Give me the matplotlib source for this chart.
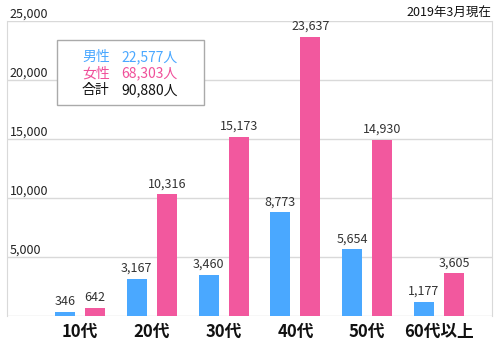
import matplotlib
matplotlib.use("Agg")
import matplotlib.pyplot as plt
from matplotlib.patches import Rectangle

plt.rcParams['font.family'] = ['Noto Sans CJK JP', 'DejaVu Sans']

ages = ["10代", "20代", "30代", "40代", "50代", "60代以上"]
male = [346, 3167, 3460, 8773, 5654, 1177]
female = [642, 10316, 15173, 23637, 14930, 3605]
yticks = [5000, 10000, 15000, 20000, 25000]
legend_rows = [("男性", "22,577人"), ("女性", "68,303人"), ("合計", "90,880人")]

BLUE = "#4aa8ff"; PINK = "#f2589e"; GRID = "#d9d9d9"
W, H = 500, 360
fig = plt.figure(figsize=(5, 3.6), dpi=100)
ax = fig.add_axes([7/W, 1-316/H, (492-7)/W, (316-21)/H])
ax.set_xlim(-1.017, 5.738); ax.set_ylim(0, 25000)
for s in ["top", "bottom"]: ax.spines[s].set_visible(False)
for s in ["left", "right"]: ax.spines[s].set_color(GRID)
ax.set_xticks([]); ax.set_yticks([])
for y in [0] + yticks:
    ax.axhline(y, color=GRID, lw=1, zorder=0)
# y labels sit just above each gridline at the far left
for y in yticks:
    ax.text(3/W, y, f"{y:,}", transform=ax.get_yaxis_transform(), fontsize=9,
            ha="left", va="bottom", color="#222")
bw = 20/71.8; off = 15/71.8
x = range(len(ages))
ax.bar([i-off for i in x], male, width=bw, color=BLUE, zorder=2)
ax.bar([i+off for i in x], female, width=bw, color=PINK, zorder=2)
for i in x:
    ax.text(i-off, male[i]+350, f"{male[i]:,}", ha="center", va="bottom", fontsize=9, color="#333")
    ax.text(i+off, female[i]+350, f"{female[i]:,}", ha="center", va="bottom", fontsize=9, color="#333")
    ax.text(i, -1350, ages[i], ha="center", va="center", fontsize=12, fontweight="bold", color="#111")

# legend box
fig.patches.append(Rectangle((57/W, 1-105/H), (204-57)/W, (105-40)/H, transform=fig.transFigure,
                             facecolor="white", edgecolor="#aaaaaa", lw=1, zorder=5))
cols = [BLUE, "#f0509a", "#111111"]
for k, (a, b) in enumerate(legend_rows):
    yy = 1 - (57 + 16.5*k)/H
    fig.text(82/W, yy, a, color=cols[k], fontsize=10, va="center", zorder=6)
    fig.text(121/W, yy, b, color=cols[k], fontsize=10, va="center", zorder=6)

fig.text(491/W, 1-13/H, "2019年3月現在", ha="right", va="center", fontsize=9, color="#111")
fig.savefig("out.png", dpi=100)
